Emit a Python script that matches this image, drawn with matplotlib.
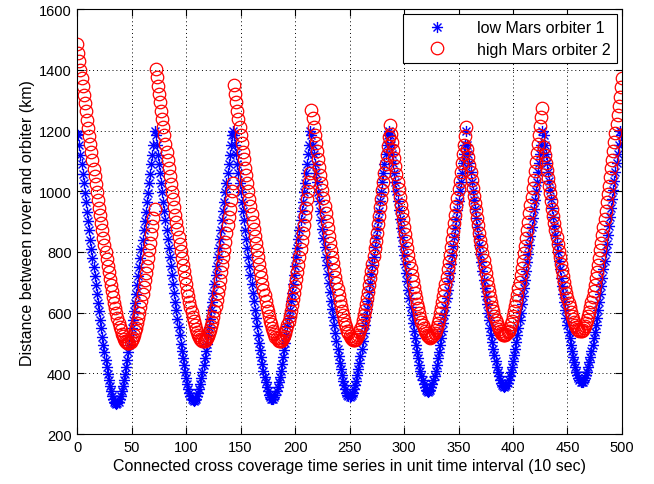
import numpy as np
import matplotlib
matplotlib.use("Agg")
import matplotlib.pyplot as plt
from matplotlib.path import Path

# distance (km) for each time step, one list per coverage pass

# low Mars orbiter 1 (blue asterisks)
blue_pass1 = [1190, 1184, 1152, 1121, 1090, 1058, 1027, 995, 964, 933, 902, 872, 841, 810, 780, 750, 720, 690, 661, 632,
              604, 575, 548, 521, 494, 469, 444, 420, 398, 377, 359, 342, 327, 316, 307, 302, 300, 302, 307, 316,
              327, 342, 359, 377, 398, 420, 444, 469, 494, 521, 548, 575, 604, 632, 661, 690, 720, 750, 780, 810,
              841, 872, 902, 933, 964, 995, 1027, 1058, 1090, 1121, 1152, 1200]
blue_pass2 = [1184, 1152, 1121, 1091, 1059, 1028, 996, 965, 934, 904, 874, 843, 812, 782, 753, 723, 693, 664, 636, 608,
              579, 553, 526, 498, 473, 449, 426, 405, 385, 366, 350, 336, 325, 317, 312, 310, 312, 317, 325, 336,
              350, 366, 385, 405, 426, 449, 473, 498, 526, 553, 579, 608, 636, 664, 693, 723, 753, 782, 812, 843,
              874, 904, 934, 965, 996, 1028, 1059, 1091, 1121, 1152, 1184, 1200]
blue_pass3 = [1184, 1152, 1122, 1091, 1059, 1028, 997, 966, 935, 904, 874, 844, 813, 784, 754, 724, 695, 666, 638, 610,
              581, 555, 528, 501, 477, 453, 430, 408, 389, 371, 354, 341, 330, 322, 317, 315, 317, 322, 330, 341,
              354, 371, 389, 408, 430, 453, 477, 501, 528, 555, 581, 610, 638, 666, 695, 724, 754, 784, 813, 844,
              874, 904, 935, 966, 997, 1028, 1059, 1091, 1122, 1152, 1200]
blue_pass4 = [1184, 1153, 1122, 1091, 1059, 1029, 998, 967, 936, 906, 876, 845, 815, 785, 756, 727, 697, 669, 640, 613,
              585, 558, 532, 506, 481, 458, 435, 414, 394, 376, 361, 347, 336, 329, 324, 322, 324, 329, 336, 347,
              361, 376, 394, 414, 435, 458, 481, 506, 532, 558, 585, 613, 640, 669, 697, 727, 756, 785, 815, 845,
              876, 906, 936, 967, 998, 1029, 1059, 1091, 1122, 1153, 1184, 1200]
blue_pass5 = [1185, 1153, 1123, 1092, 1061, 1031, 1000, 969, 939, 909, 879, 849, 819, 790, 761, 732, 703, 675, 647, 620,
              593, 567, 541, 517, 493, 470, 449, 428, 409, 392, 377, 364, 354, 346, 342, 340, 342, 346, 354, 364,
              377, 392, 409, 428, 449, 470, 493, 517, 541, 567, 593, 620, 647, 675, 703, 732, 761, 790, 819, 849,
              879, 909, 939, 969, 1000, 1031, 1061, 1092, 1123, 1153, 1200]
blue_pass6 = [1153, 1123, 1093, 1062, 1032, 1002, 971, 941, 912, 882, 852, 823, 794, 766, 737, 709, 681, 654, 627, 600,
              575, 549, 527, 504, 481, 460, 440, 422, 405, 390, 378, 368, 361, 357, 355, 357, 361, 368, 378, 390,
              405, 422, 440, 460, 481, 504, 527, 549, 575, 600, 627, 654, 681, 709, 737, 766, 794, 823, 852, 882,
              912, 941, 971, 1002, 1032, 1062, 1093, 1123, 1153, 1200]
blue_pass7 = [1185, 1154, 1124, 1094, 1064, 1034, 1004, 974, 944, 915, 885, 856, 827, 799, 771, 743, 715, 688, 661, 635,
              609, 584, 559, 536, 516, 494, 473, 454, 436, 420, 406, 394, 385, 378, 373, 372, 373, 378, 385, 394,
              406, 420, 436, 454, 473, 494, 516, 536, 559, 584, 609, 635, 661, 688, 715, 743, 771, 799, 827, 856,
              885, 915, 944, 974, 1004, 1034, 1064, 1094, 1124, 1154, 1200, 1185, 1155]

# high Mars orbiter 2 (red circles)
red_pass1 = [1485, 1457, 1429, 1401, 1373, 1346, 1318, 1291, 1263, 1236, 1209, 1182, 1155, 1128, 1102, 1075, 1049, 1023, 997, 972,
             946, 921, 896, 872, 847, 824, 800, 777, 755, 733, 711, 690, 670, 651, 632, 614, 598, 582, 567, 554,
             542, 531, 522, 514, 508, 504, 501, 500, 501, 504, 510, 517, 527, 538, 551, 566, 583, 600, 619, 639,
             661, 683, 706, 730, 754, 779, 805, 831, 858, 885, 913, 941]
red_pass2 = [1403, 1375, 1348, 1320, 1293, 1265, 1238, 1211, 1184, 1157, 1130, 1104, 1077, 1051, 1025, 999, 974, 948, 923, 898,
             875, 850, 827, 803, 780, 758, 736, 714, 693, 673, 655, 636, 618, 602, 586, 571, 558, 546, 536, 527,
             519, 513, 509, 506, 505, 506, 509, 515, 522, 532, 542, 555, 570, 587, 604, 623, 643, 665, 686, 709,
             733, 757, 782, 808, 834, 861, 888, 915, 943, 971, 1000, 1028]
red_pass3 = [1349, 1321, 1294, 1266, 1239, 1212, 1185, 1158, 1131, 1105, 1078, 1052, 1026, 1001, 976, 950, 925, 900, 876, 851,
             828, 805, 782, 760, 738, 716, 695, 675, 657, 638, 620, 604, 588, 573, 561, 549, 538, 529, 521, 515,
             511, 508, 507, 508, 511, 517, 524, 534, 545, 558, 572, 589, 606, 625, 645, 666, 688, 711, 735, 758,
             783, 809, 835, 862, 889, 917, 945, 973, 1001, 1029, 1059]
red_pass4 = [1267, 1240, 1213, 1186, 1159, 1133, 1107, 1080, 1054, 1028, 1003, 978, 952, 927, 902, 878, 854, 831, 807, 784,
             762, 740, 718, 698, 678, 659, 640, 622, 607, 591, 576, 563, 552, 541, 532, 524, 518, 514, 511, 510,
             511, 514, 520, 527, 537, 547, 560, 575, 592, 608, 627, 647, 669, 690, 713, 737, 761, 786, 812, 837,
             864, 891, 919, 947, 975, 1003, 1031, 1061, 1090, 1120, 1149, 1178]
red_pass5 = [1217, 1190, 1163, 1137, 1111, 1084, 1058, 1032, 1007, 982, 956, 931, 907, 883, 858, 835, 813, 790, 768, 746,
             724, 705, 685, 666, 647, 629, 614, 598, 583, 570, 559, 549, 540, 532, 526, 522, 519, 518, 519, 522,
             527, 533, 542, 552, 565, 580, 598, 615, 634, 654, 675, 696, 719, 743, 767, 791, 816, 842, 869, 895,
             923, 951, 979, 1007, 1035, 1065, 1094, 1124, 1152, 1182, 1212]
red_pass6 = [1139, 1114, 1088, 1062, 1036, 1011, 986, 961, 937, 912, 889, 864, 841, 818, 795, 773, 751, 730, 709, 689,
             671, 653, 635, 619, 604, 589, 577, 565, 555, 546, 538, 533, 529, 526, 525, 526, 529, 535, 541, 551,
             561, 574, 588, 605, 621, 639, 659, 680, 702, 724, 747, 771, 795, 821, 846, 873, 899, 927, 954, 982,
             1011, 1038, 1068, 1097, 1126, 1155, 1185, 1215, 1245, 1275]
red_pass7 = [1146, 1121, 1094, 1069, 1043, 1018, 993, 968, 943, 919, 896, 871, 849, 826, 803, 782, 761, 740, 720, 700,
             682, 664, 647, 632, 617, 603, 590, 579, 569, 560, 553, 547, 544, 541, 540, 541, 544, 549, 556, 565,
             575, 588, 602, 618, 634, 652, 671, 692, 713, 735, 758, 781, 805, 830, 856, 882, 908, 936, 963, 990,
             1019, 1046, 1076, 1104, 1134, 1162, 1192, 1221, 1252, 1281, 1312, 1342, 1372]

blue = np.concatenate([blue_pass1, blue_pass2, blue_pass3, blue_pass4, blue_pass5, blue_pass6, blue_pass7])
red = np.concatenate([red_pass1, red_pass2, red_pass3, red_pass4, red_pass5, red_pass6, red_pass7])
t_blue = np.arange(len(blue))
t_red = np.arange(len(red))

plt.rcParams['font.family'] = ['Liberation Sans', 'DejaVu Sans']
plt.rcParams['font.size'] = 10.5

# MATLAB style asterisk (+ and x overlaid)
r = 0.72
asterisk = Path([(-1, 0), (1, 0), (0, -1), (0, 1), (-r, -r), (r, r), (-r, r), (r, -r)],
                [Path.MOVETO, Path.LINETO] * 4)

fig = plt.figure(figsize=(6.54, 4.85), dpi=100)
ax = fig.add_axes([0.118, 0.103, 0.833, 0.876])

ax.plot(t_blue, blue, linestyle='none', marker=asterisk, markersize=8, markeredgewidth=1.0,
        markeredgecolor='b', markerfacecolor='none', label='low Mars orbiter 1')
ax.plot(t_red, red, linestyle='none', marker='o', markersize=9, markeredgewidth=0.9,
        markeredgecolor='r', markerfacecolor='none', label='high Mars orbiter 2')

ax.set_xlim(0, 500)
ax.set_ylim(200, 1600)
ax.set_xticks(np.arange(0, 501, 50))
ax.set_yticks(np.arange(200, 1601, 200))
ax.grid(True, color='k', linestyle=(0, (1, 3)), linewidth=0.7)
ax.tick_params(direction='in', length=5, top=True, right=True, width=0.8, pad=4, labelsize=10.5)
for s in ax.spines.values():
    s.set_linewidth(0.8)

ax.set_xlabel('Connected cross coverage time series in unit time interval (10 sec)', fontsize=11.5, labelpad=3)
ax.set_ylabel('Distance between rover and orbiter (km)', fontsize=11.5, labelpad=3)

leg = ax.legend(loc='upper right', fancybox=False, edgecolor='k', framealpha=1, fontsize=11.5,
                borderaxespad=0.3, handlelength=3.5, handletextpad=0.75, borderpad=0.4, labelspacing=0.4)
leg.get_frame().set_linewidth(0.8)

fig.savefig('out.png', dpi=100)
